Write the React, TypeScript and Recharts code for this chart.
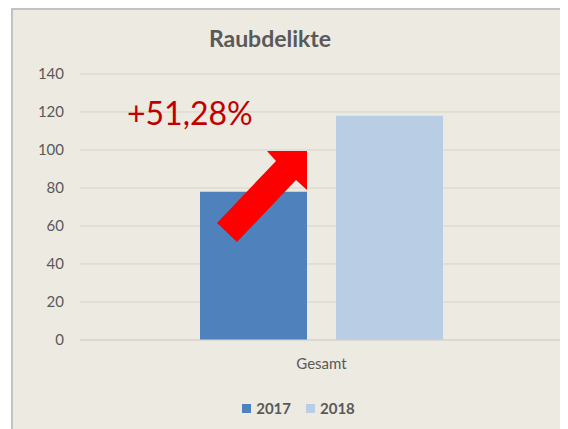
import React from 'react';
import { BarChart, Bar, XAxis, YAxis, CartesianGrid, Legend } from 'recharts';

const categories = ['Gesamt'];
const values2017 = [78];
const values2018 = [118];
const yTicks = [0, 20, 40, 60, 80, 100, 120, 140];
const seriesNames = ['2017', '2018'];
const title = 'Raubdelikte';
const changeLabel = '+51,28%';

const data = categories.map((c, i) => ({
  name: c,
  [seriesNames[0]]: values2017[i],
  [seriesNames[1]]: values2018[i],
}));

const FONT = 'Lato, "Noto Sans", sans-serif';
const GREY = '#595959';

const renderLegend = (props: any) => {
  const payload = props.payload || [];
  return (
    <div style={{ display: 'flex', justifyContent: 'center', gap: 15, fontFamily: FONT }}>
      {payload.map((p: any) => (
        <div key={p.value} style={{ display: 'flex', alignItems: 'center' }}>
          <span style={{ display: 'inline-block', width: 9, height: 9, background: p.color, marginRight: 5 }} />
          <span style={{ fontSize: 15, fontWeight: 700, color: GREY, lineHeight: '18px' }}>{p.value}</span>
        </div>
      ))}
    </div>
  );
};

export default function App() {
  return (
    <div
      style={{
        position: 'relative',
        marginLeft: 3,
        width: 555,
        height: 419,
        borderTop: '2px solid #C2C2C2',
        borderLeft: '2px solid #C2C2C2',
        background: '#EDEAE1',
      }}
    >
      <BarChart
        width={555}
        height={419}
        data={data}
        margin={{ top: 64, right: 5, left: 0, bottom: 41 }}
        barSize={107}
        barGap={29}
      >
        <CartesianGrid vertical={false} stroke="#D6D3CB" />
        <XAxis
          dataKey="name"
          axisLine={{ stroke: '#D6D3CB' }}
          tickLine={false}
          tickSize={0}
          tickMargin={18}
          height={30}
          tick={{ fill: GREY, fontSize: 15, fontFamily: FONT }}
        />
        <YAxis
          domain={[0, 140]}
          ticks={yTicks}
          width={67}
          axisLine={false}
          tickLine={false}
          tickSize={0}
          tickMargin={16}
          tick={{ fill: GREY, fontSize: 15, fontFamily: FONT }}
        />
        <Legend
          verticalAlign="bottom"
          content={renderLegend}
          wrapperStyle={{ bottom: 12, left: 16, width: 539 }}
        />
        <Bar dataKey={seriesNames[0]} fill="#4F81BD" isAnimationActive={false} />
        <Bar dataKey={seriesNames[1]} fill="#B9CDE5" isAnimationActive={false} />
      </BarChart>
      <svg
        width={555}
        height={419}
        style={{ position: 'absolute', left: 0, top: 0, pointerEvents: 'none' }}
      >
        <text x={257} y={37} textAnchor="middle" fontFamily={FONT} fontWeight={700} fontSize={23} fill={GREY}>
          {title}
        </text>
        <text x={114} y={115} fontFamily={FONT} fontSize={32} fill="#C00000">
          {changeLabel}
        </text>
        <polygon
          points="204,213 263,151 254,141 294,141 294,180 283,170 224,232"
          fill="#FF0000"
        />
      </svg>
    </div>
  );
}
